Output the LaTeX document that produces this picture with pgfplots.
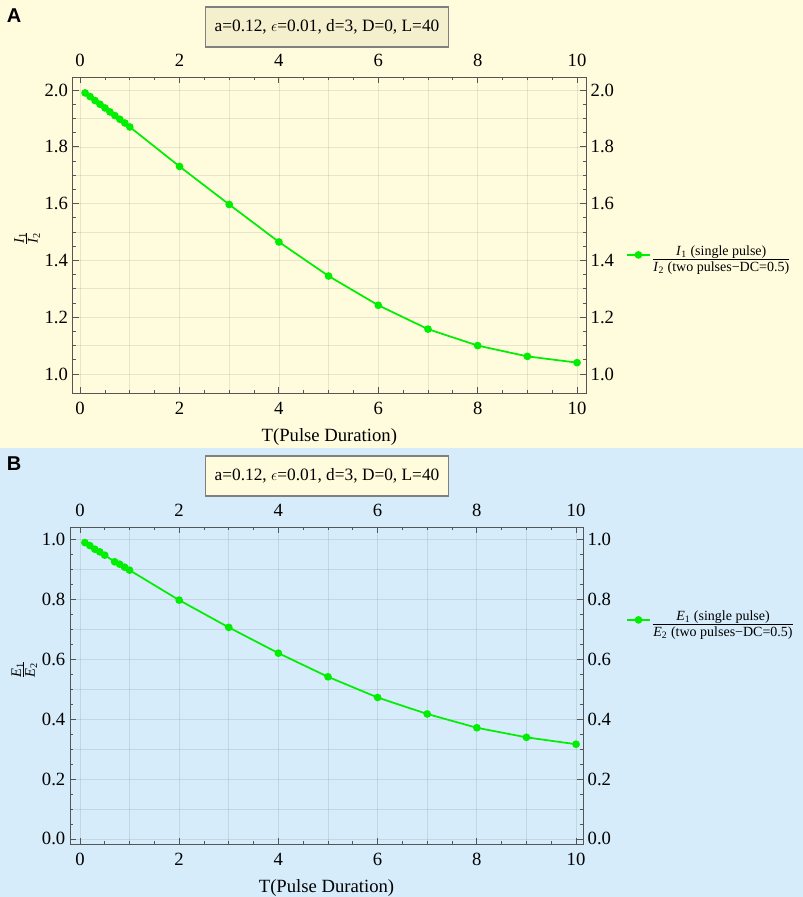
\documentclass[border=0pt]{standalone}
\usepackage{fontspec}
\setmainfont{Liberation Serif}
\setsansfont{Liberation Sans}
\usepackage{pgfplots}
\pgfplotsset{compat=1.18}
\definecolor{bgA}{RGB}{255,252,222}
\definecolor{bgB}{RGB}{214,236,251}
\definecolor{boxA}{RGB}{244,239,204}
\definecolor{boxB}{RGB}{255,252,222}
\definecolor{frameC}{RGB}{85,85,85}
\definecolor{lgreen}{RGB}{0,238,0}
\pgfplotsset{
  common/.style={
    scale only axis,
    axis line style={frameC, line width=0.6pt},
    every tick/.style={frameC, line width=0.6pt},
    major tick length=4.5pt,
    minor tick length=2.4pt,
    tick label style={font=\fontsize{14}{16}\selectfont, text=black},
    /pgf/number format/assume math mode=true,
    xtick={0,2,4,6,8,10},
    minor x tick num=3,
    minor y tick num=3,
    y tick label style={/pgf/number format/.cd, fixed, fixed zerofill, precision=1},
    label style={font=\fontsize{14}{16}\selectfont},
    extra x ticks={1,3,5,7,9},
    extra x tick labels={},
    extra x tick style={major tick length=2.4pt},
    extra y tick labels={},
    extra y tick style={major tick length=2.4pt},
  },
  gridded/.style={
    grid=major,
    major grid style={black, opacity=0.09, line width=0.5pt},
    extra x tick style={grid=major, major tick length=2.4pt},
    extra y tick style={grid=major, major tick length=2.4pt},
    x tick label style={yshift=-3pt},
    xlabel style={yshift=-4pt},
  },
  upperaxis/.style={
    xticklabel pos=upper, yticklabel pos=right,
    x tick label style={yshift=4pt},
  },
  panelA/.style={
    at={(54.5pt,-57.75pt)}, anchor=north west,
    width=385pt, height=237pt,
    xmin=-0.15, xmax=10.18, ymin=0.933, ymax=2.046,
    ytick={1,1.2,1.4,1.6,1.8,2},
    extra y ticks={1.1,1.3,1.5,1.7,1.9},
  },
  panelB/.style={
    at={(52.5pt,-395.25pt)}, anchor=north west,
    width=384.75pt, height=237.75pt,
    xmin=-0.2, xmax=10.14, ymin=-0.017, ymax=1.041,
    ytick={0,0.2,0.4,0.6,0.8,1},
    extra y ticks={0.1,0.3,0.5,0.7,0.9},
  },
}
\begin{document}
\begin{tikzpicture}
\fill[bgA] (0pt,0pt) rectangle (602.25pt,-336pt);
\fill[bgB] (0pt,-336pt) rectangle (602.25pt,-672.75pt);

% ---------- Panel A ----------
\begin{axis}[common, gridded, panelA,
  xlabel={T(Pulse Duration)},
  ylabel={\fontsize{11}{12}\selectfont\begin{tabular}{@{}c@{}}\textit{I}\textsubscript{1}\\[-2pt]\hline\textit{I}\textsubscript{2}\end{tabular}},
  ylabel style={at={(axis description cs:-0.088,0.49)}, anchor=center},
  legend style={at={(1.07,0.437)}, anchor=west, draw=none, fill=none,
    font=\fontsize{10.5}{12.5}\selectfont},
]
\addplot[lgreen, line width=1.3pt, mark=*, mark size=2.2pt, mark options={fill=lgreen, draw=lgreen}]
coordinates {
(0.1,1.990) (0.2,1.977) (0.3,1.963) (0.4,1.950) (0.5,1.937) (0.6,1.923)
(0.7,1.910) (0.8,1.897) (0.9,1.884) (1.0,1.870) (2,1.731) (3,1.597)
(4,1.465) (5,1.345) (6,1.242) (7,1.158) (8,1.100) (9,1.062) (10,1.040)
};
\addlegendentry{\begin{tabular}{@{}c@{}}\textit{I}\textsubscript{1} (single pulse)\\[-1pt]\hline\textit{I}\textsubscript{2} (two pulses−DC=0.5)\end{tabular}}
\end{axis}
\begin{axis}[common, panelA, upperaxis]
\addplot[draw=none] coordinates {(0,1)};
\end{axis}
\node[draw=gray, line width=0.8pt, fill=boxA, minimum width=182pt, minimum height=30pt,
  font=\fontsize{13}{15}\selectfont] at (245.25pt,-20.25pt) {a=0.12, $\epsilon$=0.01, d=3, D=0, L=40};
\node[font=\sffamily\bfseries\fontsize{15}{18}\selectfont] at (10.5pt,-11.5pt) {A};

% ---------- Panel B ----------
\begin{axis}[common, gridded, panelB,
  xlabel={T(Pulse Duration)},
  ylabel={\fontsize{11}{12}\selectfont\begin{tabular}{@{}c@{}}\textit{E}\textsubscript{1}\\[-2pt]\hline\textit{E}\textsubscript{2}\end{tabular}},
  ylabel style={at={(axis description cs:-0.088,0.55)}, anchor=center},
  legend style={at={(1.076,0.707)}, anchor=west, draw=none, fill=none,
    font=\fontsize{10.5}{12.5}\selectfont},
]
\addplot[lgreen, line width=1.3pt, mark=*, mark size=2.2pt, mark options={fill=lgreen, draw=lgreen}]
coordinates {
(0.1,0.989) (0.2,0.979) (0.3,0.967) (0.4,0.958) (0.5,0.947)
(0.7,0.925) (0.8,0.917) (0.9,0.907) (1.0,0.897) (2,0.797) (3,0.706)
(4,0.620) (5,0.541) (6,0.472) (7,0.417) (8,0.371) (9,0.339) (10,0.316)
};
\addlegendentry{\begin{tabular}{@{}c@{}}\textit{E}\textsubscript{1} (single pulse)\\[-1pt]\hline\textit{E}\textsubscript{2} (two pulses−DC=0.5)\end{tabular}}
\end{axis}
\begin{axis}[common, panelB, upperaxis]
\addplot[draw=none] coordinates {(0,0.5)};
\end{axis}
\node[draw=gray, line width=0.8pt, fill=boxB, minimum width=182pt, minimum height=30pt,
  font=\fontsize{13}{15}\selectfont] at (245.25pt,-357pt) {a=0.12, $\epsilon$=0.01, d=3, D=0, L=40};
\node[font=\sffamily\bfseries\fontsize{15}{18}\selectfont] at (10.5pt,-347.5pt) {B};
\pgfresetboundingbox
\path (0pt,0pt) rectangle (602.25pt,-672.75pt);
\end{tikzpicture}
\end{document}
